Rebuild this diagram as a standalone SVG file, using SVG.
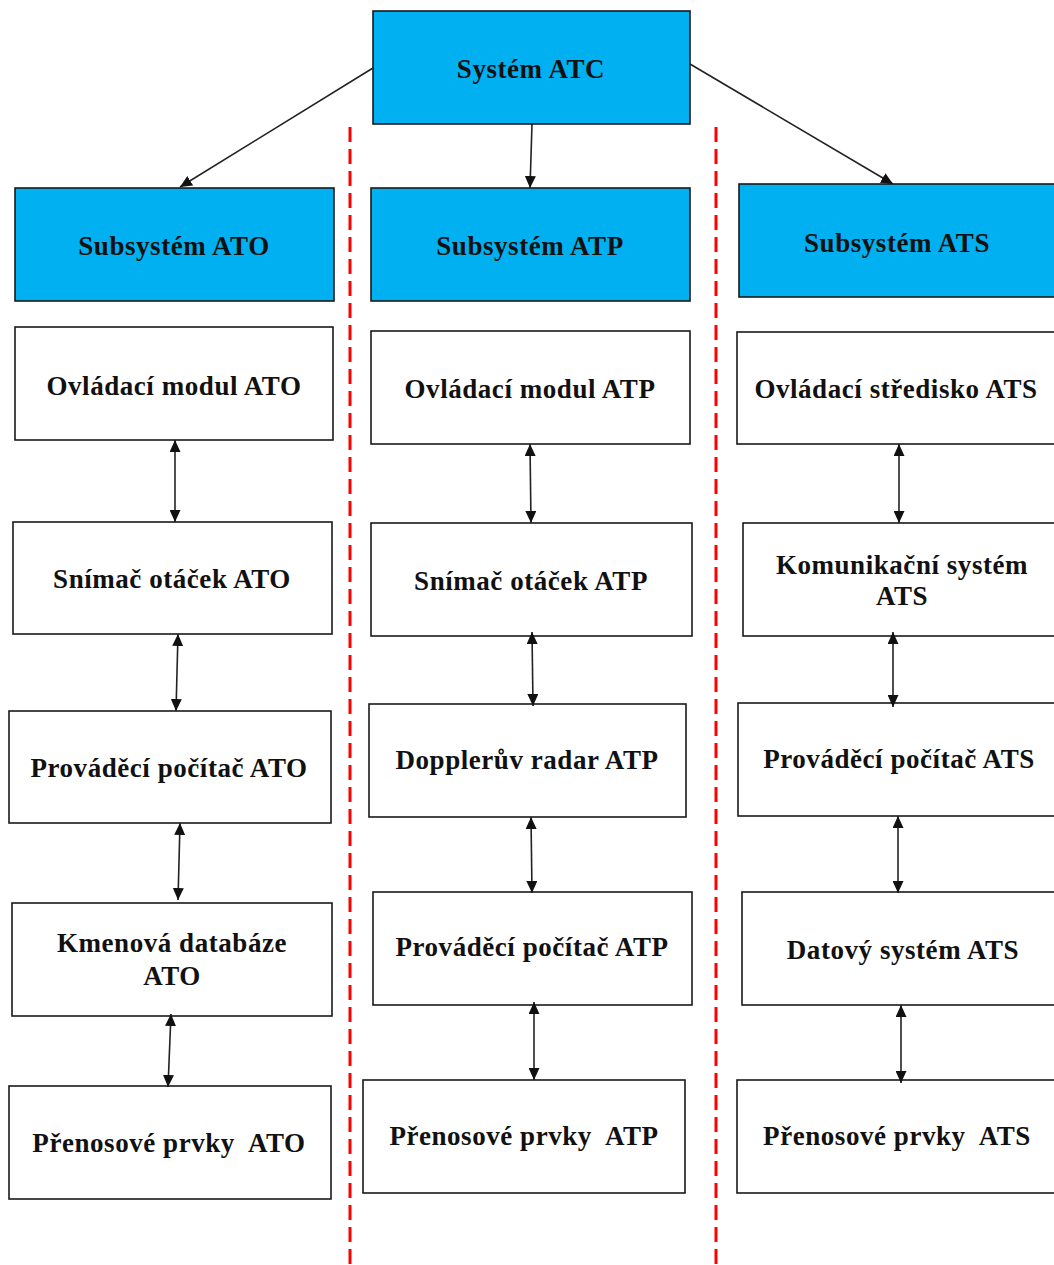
<svg xmlns="http://www.w3.org/2000/svg" width="1054" height="1265" viewBox="0 0 1054 1265">
  <style>
    .box { fill: #ffffff; stroke: #1a1a1a; stroke-width: 1.6; }
    .head { fill: #00b0f0; stroke: #1a1a1a; stroke-width: 1.6; }
    .lbl { font-family: "Liberation Serif", "Times New Roman", serif; font-weight: bold; font-size: 27px; letter-spacing: 0.55px; fill: #111111; text-anchor: middle; white-space: pre; }
    .link { stroke: #222222; stroke-width: 1.6; fill: none; }
    .divider { stroke: #ff0000; stroke-width: 3; stroke-dasharray: 15 7; fill: none; }
  </style>
  <defs>
    <marker id="tip" viewBox="0 0 12 11" refX="12" refY="5.5" markerWidth="12" markerHeight="11" markerUnits="userSpaceOnUse" orient="auto-start-reverse">
      <path d="M0,0 L12,5.5 L0,11 z" fill="#111111"/>
    </marker>
  </defs>
  <rect width="1054" height="1265" fill="#ffffff"/>

  <!-- column dividers -->
  <g id="dividers">
    <line class="divider" x1="350" y1="127" x2="350" y2="1265"/>
    <line class="divider" x1="716" y1="127" x2="716" y2="1265"/>
  </g>

  <!-- root -->
  <g id="atc">
    <rect class="head" x="373" y="11" width="317" height="113"/>
    <text class="lbl" x="531" y="78">Systém ATC</text>
  </g>

  <!-- ATO column -->
  <g id="ato">
    <rect class="head" x="15" y="188" width="319" height="113"/>
    <text class="lbl" x="174" y="255">Subsystém ATO</text>
  </g>
  <g id="ato-ovladaci-modul">
    <rect class="box" x="15" y="327" width="318" height="113"/>
    <text class="lbl" x="174" y="395">Ovládací modul ATO</text>
  </g>
  <g id="ato-snimac">
    <rect class="box" x="13" y="522" width="319" height="112"/>
    <text class="lbl" x="172" y="588">Snímač otáček ATO</text>
  </g>
  <g id="ato-pocitac">
    <rect class="box" x="9" y="711" width="322" height="112"/>
    <text class="lbl" x="169" y="777">Prováděcí počítač ATO</text>
  </g>
  <g id="ato-databaze">
    <rect class="box" x="12" y="903" width="320" height="113"/>
    <text class="lbl" x="172" y="952">Kmenová databáze</text>
    <text class="lbl" x="172" y="985">ATO</text>
  </g>
  <g id="ato-prenos">
    <rect class="box" x="9" y="1086" width="322" height="113"/>
    <text class="lbl" x="169" y="1152">Přenosové prvky  ATO</text>
  </g>

  <!-- ATP column -->
  <g id="atp">
    <rect class="head" x="371" y="188" width="319" height="113"/>
    <text class="lbl" x="530" y="255">Subsystém ATP</text>
  </g>
  <g id="atp-ovladaci-modul">
    <rect class="box" x="371" y="331" width="319" height="113"/>
    <text class="lbl" x="530" y="398">Ovládací modul ATP</text>
  </g>
  <g id="atp-snimac">
    <rect class="box" x="371" y="523" width="321" height="113"/>
    <text class="lbl" x="531" y="590">Snímač otáček ATP</text>
  </g>
  <g id="atp-doppler">
    <rect class="box" x="369" y="704" width="317" height="113"/>
    <text class="lbl" x="527" y="769">Dopplerův radar ATP</text>
  </g>
  <g id="atp-pocitac">
    <rect class="box" x="373" y="892" width="319" height="113"/>
    <text class="lbl" x="532" y="956">Prováděcí počítač ATP</text>
  </g>
  <g id="atp-prenos">
    <rect class="box" x="363" y="1080" width="322" height="113"/>
    <text class="lbl" x="524" y="1145">Přenosové prvky  ATP</text>
  </g>

  <!-- ATS column -->
  <g id="ats">
    <rect class="head" x="739" y="184" width="318" height="113"/>
    <text class="lbl" x="897" y="252">Subsystém ATS</text>
  </g>
  <g id="ats-stredisko">
    <rect class="box" x="737" y="332" width="320" height="112"/>
    <text class="lbl" x="896" y="398">Ovládací středisko ATS</text>
  </g>
  <g id="ats-komunikace">
    <rect class="box" x="743" y="523" width="318" height="113"/>
    <text class="lbl" x="902" y="574">Komunikační systém</text>
    <text class="lbl" x="902" y="605">ATS</text>
  </g>
  <g id="ats-pocitac">
    <rect class="box" x="738" y="703" width="322" height="113"/>
    <text class="lbl" x="899" y="768">Prováděcí počítač ATS</text>
  </g>
  <g id="ats-data">
    <rect class="box" x="742" y="892" width="322" height="113"/>
    <text class="lbl" x="903" y="959">Datový systém ATS</text>
  </g>
  <g id="ats-prenos">
    <rect class="box" x="737" y="1080" width="320" height="113"/>
    <text class="lbl" x="897" y="1145">Přenosové prvky  ATS</text>
  </g>

  <!-- connectors -->
  <g id="connectors">
    <line class="link" x1="373" y1="68" x2="180" y2="187" marker-end="url(#tip)"/>
    <line class="link" x1="532" y1="124" x2="530" y2="188" marker-end="url(#tip)"/>
    <line class="link" x1="690" y1="64" x2="893" y2="184" marker-end="url(#tip)"/>

    <line class="link" x1="175" y1="440" x2="175" y2="522" marker-start="url(#tip)" marker-end="url(#tip)"/>
    <line class="link" x1="178" y1="634" x2="176" y2="711" marker-start="url(#tip)" marker-end="url(#tip)"/>
    <line class="link" x1="180" y1="823" x2="178" y2="900" marker-start="url(#tip)" marker-end="url(#tip)"/>
    <line class="link" x1="171" y1="1014" x2="168" y2="1087" marker-start="url(#tip)" marker-end="url(#tip)"/>

    <line class="link" x1="530" y1="444" x2="531" y2="523" marker-start="url(#tip)" marker-end="url(#tip)"/>
    <line class="link" x1="532" y1="632" x2="533" y2="706" marker-start="url(#tip)" marker-end="url(#tip)"/>
    <line class="link" x1="531" y1="817" x2="532" y2="893" marker-start="url(#tip)" marker-end="url(#tip)"/>
    <line class="link" x1="534" y1="1002" x2="534" y2="1080" marker-start="url(#tip)" marker-end="url(#tip)"/>

    <line class="link" x1="899" y1="444" x2="899" y2="523" marker-start="url(#tip)" marker-end="url(#tip)"/>
    <line class="link" x1="893" y1="632" x2="893" y2="707" marker-start="url(#tip)" marker-end="url(#tip)"/>
    <line class="link" x1="898" y1="816" x2="898" y2="893" marker-start="url(#tip)" marker-end="url(#tip)"/>
    <line class="link" x1="901" y1="1005" x2="901" y2="1083" marker-start="url(#tip)" marker-end="url(#tip)"/>
  </g>
</svg>
